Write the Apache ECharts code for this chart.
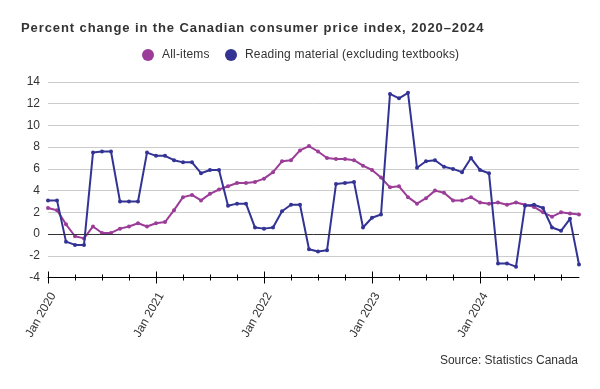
<!DOCTYPE html>
<html>
<head>
<meta charset="utf-8">
<script src="https://cdn.jsdelivr.net/npm/echarts@6/dist/echarts.min.js"></script>
<style>html,body{margin:0;padding:0;background:#fff;}#c{width:600px;height:389px;}</style>
</head>
<body>
<div id="c"></div>
<script>
var years = [2020, 2021, 2022, 2023, 2024];
var monthNames = ['Jan','Feb','Mar','Apr','May','Jun','Jul','Aug','Sep','Oct','Nov','Dec'];
var categories = [];
years.forEach(function (y) { monthNames.forEach(function (m) { categories.push(m + ' ' + y); }); });

var allItems = [
  2.4, 2.2, 0.9, -0.2, -0.4, 0.7, 0.1, 0.1, 0.5, 0.7, 1.0, 0.7,
  1.0, 1.1, 2.2, 3.4, 3.6, 3.1, 3.7, 4.1, 4.4, 4.7, 4.7, 4.8,
  5.1, 5.7, 6.7, 6.8, 7.7, 8.1, 7.6, 7.0, 6.9, 6.9, 6.8, 6.3,
  5.9, 5.2, 4.3, 4.4, 3.4, 2.8, 3.3, 4.0, 3.8, 3.1, 3.1, 3.4,
  2.9, 2.8, 2.9, 2.7, 2.9, 2.7, 2.5, 2.0, 1.6, 2.0, 1.9, 1.8
];
var readingMaterial = [
  3.1, 3.1, -0.7, -1.0, -1.0, 7.5, 7.6, 7.6, 3.0, 3.0, 3.0, 7.5,
  7.2, 7.2, 6.8, 6.6, 6.6, 5.6, 5.9, 5.9, 2.6, 2.8, 2.8, 0.6,
  0.5, 0.6, 2.1, 2.7, 2.7, -1.4, -1.6, -1.5, 4.6, 4.7, 4.8, 0.6,
  1.5, 1.8, 12.9, 12.5, 13.0, 6.1, 6.7, 6.8, 6.2, 6.0, 5.7, 7.0,
  5.9, 5.6, -2.7, -2.7, -3.0, 2.6, 2.7, 2.4, 0.6, 0.3, 1.4, -2.8
];
var seriesNames = ['All-items', 'Reading material (excluding textbooks)'];
var titleText = 'Percent change in the Canadian consumer price index, 2020\u20132024';
var sourceText = 'Source: Statistics Canada';

// the reference's title and legend texts are slightly letter-spaced
(function () {
  var spacing = {};
  spacing[titleText] = '0.9px';
  spacing[seriesNames[0]] = '0.18px';
  spacing[seriesNames[1]] = '0.18px';
  var proto = CanvasRenderingContext2D.prototype;
  var orig = proto.fillText;
  proto.fillText = function (t) {
    if (spacing[t] && 'letterSpacing' in this) {
      var prev = this.letterSpacing;
      this.letterSpacing = spacing[t];
      var r = orig.apply(this, arguments);
      this.letterSpacing = prev;
      return r;
    }
    return orig.apply(this, arguments);
  };
})();

var FONT = '"Liberation Sans", Arial, sans-serif';
function tickAxis(every, len, inside, showLine, showLabel) {
  return {
    type: 'category', data: categories, boundaryGap: false, position: 'bottom',
    axisLine: { show: showLine, onZero: false, lineStyle: { color: '#000', width: 1 } },
    axisTick: { show: true, inside: inside, length: len, interval: function (i) { return i % every === 0; }, lineStyle: { color: '#000', width: 1 } },
    axisLabel: showLabel ? {
      show: true, interval: 11, rotate: 60, margin: 13, fontSize: 12, color: '#333', fontFamily: FONT,
      verticalAlign: 'top'
    } : { show: false },
    splitLine: { show: false }
  };
}

var chart = echarts.init(document.getElementById('c'), null, { renderer: 'canvas' });
chart.setOption({
  animation: false,
  backgroundColor: '#fff',
  title: {
    text: titleText, left: 16, top: 17,
    textStyle: { fontSize: 13, fontWeight: 'bold', color: '#333', fontFamily: FONT }
  },
  legend: {
    data: seriesNames, top: 44, left: 137, icon: 'circle', itemWidth: 12, itemHeight: 12, itemGap: 17,
    textStyle: { fontSize: 12, color: '#333', fontFamily: FONT, padding: [0, 0, 0, 3] }
  },
  graphic: [{
    type: 'text', right: 22, top: 355,
    style: { text: sourceText, fontSize: 12, fill: '#333', fontFamily: FONT }
  }],
  grid: { left: 48, right: 21, top: 82, height: 195.5, containLabel: false },
  xAxis: [
    tickAxis(12, 6, false, true, true),
    tickAxis(12, 6, true, false, false),
    tickAxis(3, 3, false, false, false),
    tickAxis(3, 3, true, false, false)
  ],
  yAxis: {
    type: 'value', min: -4, max: 14, interval: 2,
    axisLine: { show: false }, axisTick: { show: false },
    axisLabel: { fontSize: 12, color: '#333', fontFamily: FONT, margin: 8 },
    splitLine: { lineStyle: { color: '#cccccc', width: 1 } }
  },
  series: [
    {
      name: seriesNames[0], type: 'line', data: allItems, xAxisIndex: 0,
      symbol: 'circle', symbolSize: 4, color: '#9b3d98',
      lineStyle: { width: 2 }, z: 3,
      markLine: { silent: true, symbol: 'none', label: { show: false },
        lineStyle: { color: '#333', width: 1, type: 'solid' }, data: [{ yAxis: 0 }] }
    },
    {
      name: seriesNames[1], type: 'line', data: readingMaterial, xAxisIndex: 0,
      symbol: 'circle', symbolSize: 4, color: '#333394',
      lineStyle: { width: 2 }, z: 4
    }
  ]
});
</script>
</body>
</html>
